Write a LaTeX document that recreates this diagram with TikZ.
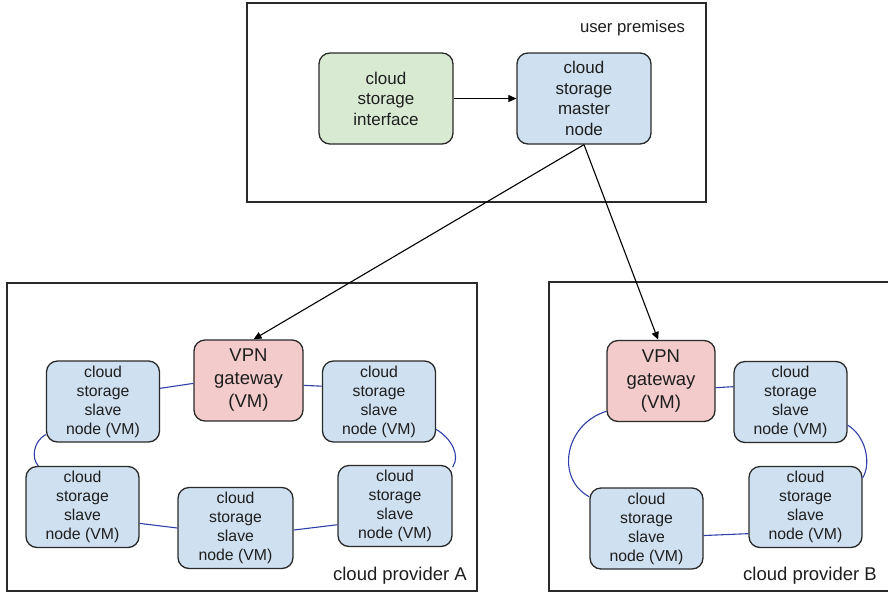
\documentclass[tikz,border=0pt]{standalone}
\usepackage{fontspec}
\setmainfont{Liberation Sans}
\usetikzlibrary{arrows.meta}
\definecolor{txt}{HTML}{1E1E1E}
\definecolor{edge}{HTML}{2A2A2A}
\definecolor{gfill}{HTML}{D9EAD3}
\definecolor{bfill}{HTML}{CFE0F0}
\definecolor{rfill}{HTML}{F4CBCB}
\definecolor{ring}{HTML}{3040A8}
\tikzset{
  area/.style={draw=edge, line width=1.4pt},
  box/.style={draw=edge, line width=1.3pt, rounded corners=11pt, inner sep=0pt, align=center, text=txt},
  topbox/.style={box, minimum width=134pt, minimum height=91pt, font=\fontsize{17}{20.5}\selectfont},
  slavebox/.style={box, fill=bfill, minimum width=113pt, minimum height=81pt, font=\fontsize{15.8}{19}\selectfont},
  vpnbox/.style={box, fill=rfill, minimum width=109pt, minimum height=81pt, font=\fontsize{18.5}{23}\selectfont},
  lbl/.style={text=txt, inner sep=0pt},
  ringline/.style={draw=ring, line width=1.1pt},
  feed/.style={draw=black, line width=1.1pt, -{Triangle[length=8pt,width=7pt]}}
}
\begin{document}
\begin{tikzpicture}[x=1pt,y=-1pt]
\useasboundingbox (0,0) rectangle (888,592);
\clip (0,0) rectangle (888,592);
\fill[white] (0,0) rectangle (888,592);
% areas
\draw[area] (247,3) rectangle (706,202);
\draw[area] (7,283) rectangle (477,591);
\draw[area] (549,282) rectangle (895,591);
\node[lbl, font=\fontsize{16.7}{20}\selectfont] (up) at (632.5,28) {user premises};
\node[lbl, anchor=east, font=\fontsize{18.5}{22}\selectfont] (cpa) at (467,576) {cloud provider A};
\node[lbl, font=\fontsize{18.5}{22}\selectfont] (cpb) at (810,576) {cloud provider B};
% top nodes
\node[topbox, fill=gfill] (iface) at (386,98.5) {cloud\\storage\\interface};
\node[topbox, fill=bfill] (master) at (584,98.5) {cloud\\storage\\master\\node};
% provider A
\node[vpnbox] (vpnA) at (248.5,380.5) {VPN\\gateway\\(VM)};
\node[slavebox] (a1) at (103,401.5) {cloud\\storage\\slave\\node (VM)};
\node[slavebox] (a2) at (379,401.5) {cloud\\storage\\slave\\node (VM)};
\node[slavebox] (a3) at (82.5,507) {cloud\\storage\\slave\\node (VM)};
\node[slavebox, minimum width=115pt] (a4) at (235.5,528) {cloud\\storage\\slave\\node (VM)};
\node[slavebox, minimum width=114pt] (a5) at (395,506) {cloud\\storage\\slave\\node (VM)};
% provider B
\node[vpnbox, minimum width=108pt] (vpnB) at (661,381) {VPN\\gateway\\(VM)};
\node[slavebox] (b1) at (790.5,402) {cloud\\storage\\slave\\node (VM)};
\node[slavebox] (b2) at (805.5,507) {cloud\\storage\\slave\\node (VM)};
\node[slavebox] (b3) at (646.5,528.5) {cloud\\storage\\slave\\node (VM)};
% ring A
\draw[ringline] (a1.13.4) -- (vpnA.183.7);
\draw[ringline] (vpnA.355.3) -- (a2.165.6);
\draw[ringline] (a2.334.7) .. controls +(15,9) and +(8,-12) .. (a5.34.6);
\draw[ringline] (a5.198.4) -- (a4.358);
\draw[ringline] (a4.180) -- (a3.344.9);
\draw[ringline] (a3.137.3) .. controls +(-7,-7) and +(-13,7) .. (a1.210.7);
% ring B
\draw[ringline] (vpnB.353.7) -- (b1.165.1);
\draw[ringline] (b1.338) .. controls +(18,11) and +(9,-15) .. (b2.27.8);
\draw[ringline] (b2.205.5) -- (b3.353.4);
\draw[ringline] (b3.151.6) .. controls +(-34,-18) and +(-42,13) .. (vpnB.209.9);
% arrows
\draw[feed] (iface) -- (master);
\draw[feed] (master.south) -- (vpnA.83.7);
\draw[feed] (master.south) -- (vpnB.94.3);
\end{tikzpicture}
\end{document}
